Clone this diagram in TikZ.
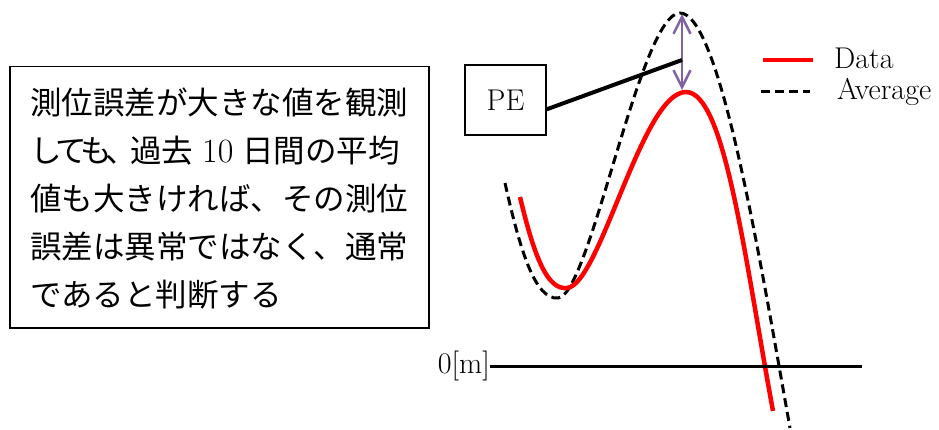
\documentclass[tikz,border=0pt]{standalone}
\usepackage{fontspec}
\newfontfamily\jpfont{Noto Sans CJK JP}
\usetikzlibrary{arrows.meta, calc}
\definecolor{arrowviolet}{RGB}{128,100,162}
\tikzset{
  framebox/.style={draw, line width=1.5pt, inner sep=0pt},
  jptext/.style={font=\jpfont\fontsize{31.5}{40}\selectfont, inner sep=0pt, anchor=base west},
  labeltext/.style={font=\fontsize{30}{32}\selectfont, inner sep=0pt},
  datacurve/.style={red, line width=4.5pt},
  avgcurve/.style={black, line width=3pt, dash pattern=on 9pt off 5pt},
}

\begin{document}
\begin{tikzpicture}[x=1pt, y=-1pt]
  \useasboundingbox (0,0) rectangle (939,430);

  % explanation box
  \node[framebox, minimum width=419pt, minimum height=261pt, anchor=north west] (note) at (9,66) {};
  \foreach \txt [count=\i] in {測位誤差が大きな値を観測,
      し\kern-6.5ptて\kern-6.5ptも\kern-6.5pt、\kern-6.5pt過去\hspace{9pt}{\rmfamily\fontsize{34}{40}\selectfont 10}\hspace{9pt}日間の平均,
      値も大きければ、その測位,
      誤差は異常ではなく、通常,
      であると判断する}
    \node[jptext] (line\i) at (30, 115+47.75*\i-47.75) {\txt};

  % curves
  \draw[avgcurve] (505,183) .. controls (520,250) and (535,300) .. (558,298)
    .. controls (590,296) and (640,13) .. (680,13)
    .. controls (720,13) and (760,260) .. (790,428);
  \draw[datacurve] (520,197) .. controls (535,260) and (548,290) .. (567,288)
    .. controls (600,285) and (642,92) .. (686,92)
    .. controls (725,92) and (745,260) .. (773,411);

  % zero line
  \node[labeltext, anchor=east] (zero) at (490,366) {0[m]};
  \coordinate (zeroend) at (862,366);
  \draw[line width=3pt] (zero.east) -- (zeroend);

  % PE marker
  \coordinate (avgpeak) at (682,14);
  \coordinate (datapeak) at (682,90);
  \coordinate (pepoint) at (682,60);
  \draw[arrowviolet, line width=2.5pt, {Straight Barb[length=17pt, width=17pt]}-{Straight Barb[length=17pt, width=17pt]}] (datapeak) -- (avgpeak);
  \node[framebox, labeltext, minimum width=81pt, minimum height=70pt] (pe) at (505.5,100) {PE};
  \draw[line width=4pt] ($(pe.east)!0.26!(pe.south east)$) -- (pepoint);

  % legend
  \draw[datacurve] (763,60) -- (813,60);
  \node[labeltext, anchor=west] (datalabel) at (834,58) {Data};
  \draw[avgcurve] (761,92) -- (810,92);
  \node[labeltext, anchor=west] (avglabel) at (837,92) {Average};
\end{tikzpicture}
\end{document}
